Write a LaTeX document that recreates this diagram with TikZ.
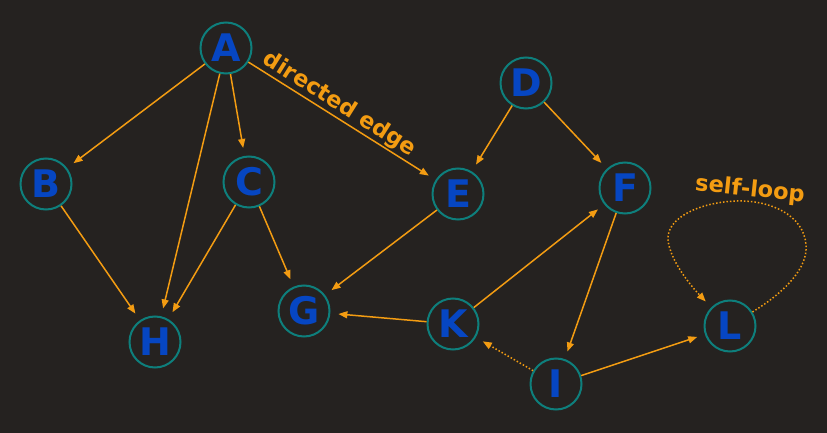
\documentclass[tikz,border=0pt]{standalone}
\usepackage{fontspec}
\setmainfont{DejaVu Sans}
\usetikzlibrary{arrows.meta}
\definecolor{bg}{HTML}{252220}
\definecolor{edgec}{HTML}{F39C12}
\definecolor{ring}{HTML}{0E7F7C}
\definecolor{letter}{HTML}{0646C2}
\tikzset{
  vtx/.style={circle, draw=ring, line width=2pt, fill=bg, minimum size=51pt, inner sep=0pt,
    text=letter, font=\fontsize{38}{38}\selectfont\bfseries},
  edge/.style={draw=edgec, line width=1.5pt, -{Triangle[length=9pt,width=7pt]}, shorten >=8pt},
  lbl/.style={text=edgec, font=\fontsize{22.5}{22.5}\selectfont\bfseries}
}
\begin{document}
\begin{tikzpicture}[x=1pt,y=-1pt]
\fill[bg] (0,0) rectangle (827,433);
\useasboundingbox (0,0) rectangle (827,433);
\node[vtx] (A) at (226,48) {A};
\node[vtx] (B) at (46,184) {B};
\node[vtx] (C) at (249,182) {C};
\node[vtx] (D) at (526,83) {D};
\node[vtx] (E) at (458,194) {E};
\node[vtx] (F) at (625,188) {F};
\node[vtx] (G) at (304,311) {G};
\node[vtx] (H) at (155,342) {H};
\node[vtx] (K) at (453,324) {K};
\node[vtx] (I) at (556,384) {I};
\node[vtx] (L) at (730,326) {L};
\draw[edge] (A) -- (B);
\draw[edge] (A) -- (H);
\draw[edge] (A) -- (C);
\draw[edge] (A) -- node[lbl, sloped, above, inner sep=1pt, pos=0.45] {directed edge} (E);
\draw[edge] (D) -- (E);
\draw[edge] (D) -- (F);
\draw[edge] (B) -- (H);
\draw[edge] (C) -- (H);
\draw[edge] (C) -- (G);
\draw[edge] (E) -- (G);
\draw[edge] (K) -- (G);
\draw[edge] (K) -- (F);
\draw[edge] (F) -- (I);
\draw[edge] (I) -- (L);
\draw[edge, dotted] (I) -- (K);
\draw[edge, dotted] (L.32) .. controls (785,292) and (808,268) .. (806,245)
  .. controls (804,215) and (770,200) .. (737,201)
  .. controls (700,202) and (666,218) .. (668,240)
  .. controls (670,260) and (690,285) .. (L.135);
\node[lbl, rotate=-6] (sl) at (750,190) {self-loop};
\end{tikzpicture}
\end{document}
